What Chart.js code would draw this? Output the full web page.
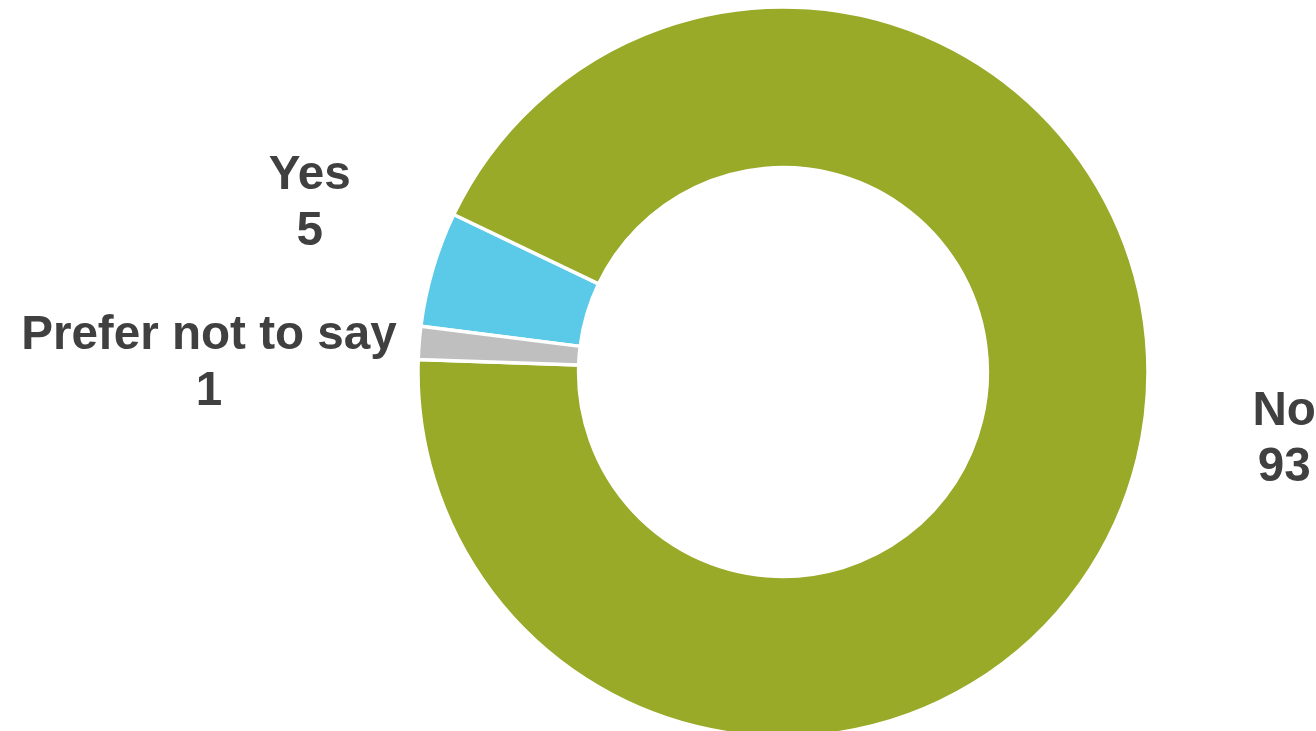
<!DOCTYPE html>
<html>
<head>
<meta charset="utf-8">
<script src="https://cdn.jsdelivr.net/npm/chart.js@4.4.0/dist/chart.umd.min.js"></script>
<style>
  html, body { margin: 0; padding: 0; background: #fff; }
  #wrap { width: 1316px; height: 731px; position: relative; }
</style>
</head>
<body>
<div id="wrap"><canvas id="donut"></canvas></div>
<script>
const categories = ['Yes', 'No', 'Prefer not to say'];
const shares = [5.1, 93.45, 1.45];
const colours = ['#5BC9E8', '#99A928', '#BFBFBF'];

// where each label sits, relative to its slice's outer mid point
const labelOffsets = [[10, -26], [12, -52], [-72, 32]];

const sliceLabels = {
    id: 'sliceLabels',
    afterDatasetsDraw(chart) {
        const ctx = chart.ctx;
        const arcs = chart.getDatasetMeta(0).data;
        ctx.save();
        ctx.font = 'bold 47.6px "Liberation Sans", Arial, sans-serif';
        ctx.fillStyle = '#404040';
        ctx.textAlign = 'center';
        ctx.textBaseline = 'middle';
        arcs.forEach((arc, i) => {
            const p = arc.getProps(['x', 'y', 'startAngle', 'endAngle', 'outerRadius'], true);
            const mid = (p.startAngle + p.endAngle) / 2;
            const r = p.outerRadius * 1.38;
            const x = p.x + Math.cos(mid) * r + labelOffsets[i][0];
            const y = p.y + Math.sin(mid) * r + labelOffsets[i][1];
            ctx.fillText(categories[i], x, y - 28);
            ctx.fillText(String(Math.round(shares[i])), x, y + 28);
        });
        ctx.restore();
    }
};

new Chart(document.getElementById('donut'), {
    type: 'doughnut',
    data: {
        labels: categories,
        datasets: [{
            data: shares,
            backgroundColor: colours,
            borderColor: '#ffffff',
            borderWidth: 3.5,
            clip: false
        }]
    },
    options: {
        responsive: true,
        maintainAspectRatio: false,
        animation: false,
        rotation: 277.2,
        cutout: '56%',
        radius: 365,
        layout: { padding: { left: 250, top: 13, right: 0, bottom: 0 } },
        plugins: {
            legend: { display: false },
            tooltip: { enabled: false }
        }
    },
    plugins: [sliceLabels]
});
</script>
</body>
</html>
